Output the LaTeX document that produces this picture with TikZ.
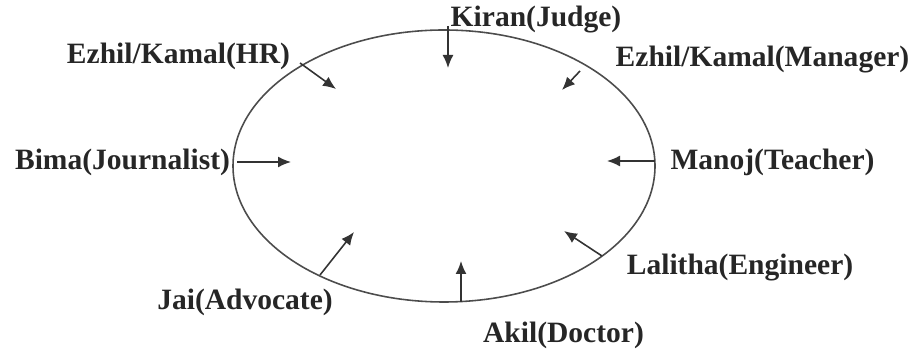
\documentclass[tikz,border=0pt]{standalone}
\usepackage{fontspec}
\setmainfont{Liberation Serif}
\usetikzlibrary{arrows.meta}
\begin{document}
\begin{tikzpicture}

\tikzset{mylabel/.style={font=\fontsize{16.8}{20}\selectfont\bfseries, text=black!85, inner sep=0pt}}
\tikzset{myarrow/.style={-{Latex[length=2.6mm, width=2.2mm]}, draw=black!80, line width=0.9pt}}

\useasboundingbox (0,0) rectangle (18.28,7.02);

\draw[draw=black!70, line width=0.9pt] (8.88,3.70) ellipse (4.22cm and 2.72cm);

\node[mylabel] (judge) at (10.72,6.62) {Kiran(Judge)};
\node[mylabel] (hr) at (3.57,5.90) {Ezhil/Kamal(HR)};
\node[mylabel] (manager) at (15.25,5.82) {Ezhil/Kamal(Manager)};
\node[mylabel] (journalist) at (2.45,3.78) {Bima(Journalist)};
\node[mylabel] (teacher) at (15.45,3.78) {Manoj(Teacher)};
\node[mylabel] (engineer) at (14.80,1.66) {Lalitha(Engineer)};
\node[mylabel] (doctor) at (11.27,0.32) {Akil(Doctor)};
\node[mylabel] (advocate) at (4.90,0.98) {Jai(Advocate)};

\coordinate (judge-a) at (8.96,6.50);
\coordinate (judge-b) at (8.96,5.66);
\coordinate (hr-a) at (6.00,5.76);
\coordinate (hr-b) at (6.72,5.24);
\coordinate (manager-a) at (11.60,5.60);
\coordinate (manager-b) at (11.24,5.22);
\coordinate (journalist-a) at (4.74,3.78);
\coordinate (journalist-b) at (5.82,3.78);
\coordinate (teacher-a) at (13.10,3.80);
\coordinate (teacher-b) at (12.14,3.80);
\coordinate (engineer-a) at (12.04,1.90);
\coordinate (engineer-b) at (11.28,2.40);
\coordinate (doctor-a) at (9.22,0.98);
\coordinate (doctor-b) at (9.22,1.80);
\coordinate (advocate-a) at (6.40,1.52);
\coordinate (advocate-b) at (7.08,2.38);

\draw[myarrow] (judge-a) -- (judge-b);
\draw[myarrow] (hr-a) -- (hr-b);
\draw[myarrow] (manager-a) -- (manager-b);
\draw[myarrow] (journalist-a) -- (journalist-b);
\draw[myarrow] (teacher-a) -- (teacher-b);
\draw[myarrow] (engineer-a) -- (engineer-b);
\draw[myarrow] (doctor-a) -- (doctor-b);
\draw[myarrow] (advocate-a) -- (advocate-b);

\end{tikzpicture}
\end{document}
